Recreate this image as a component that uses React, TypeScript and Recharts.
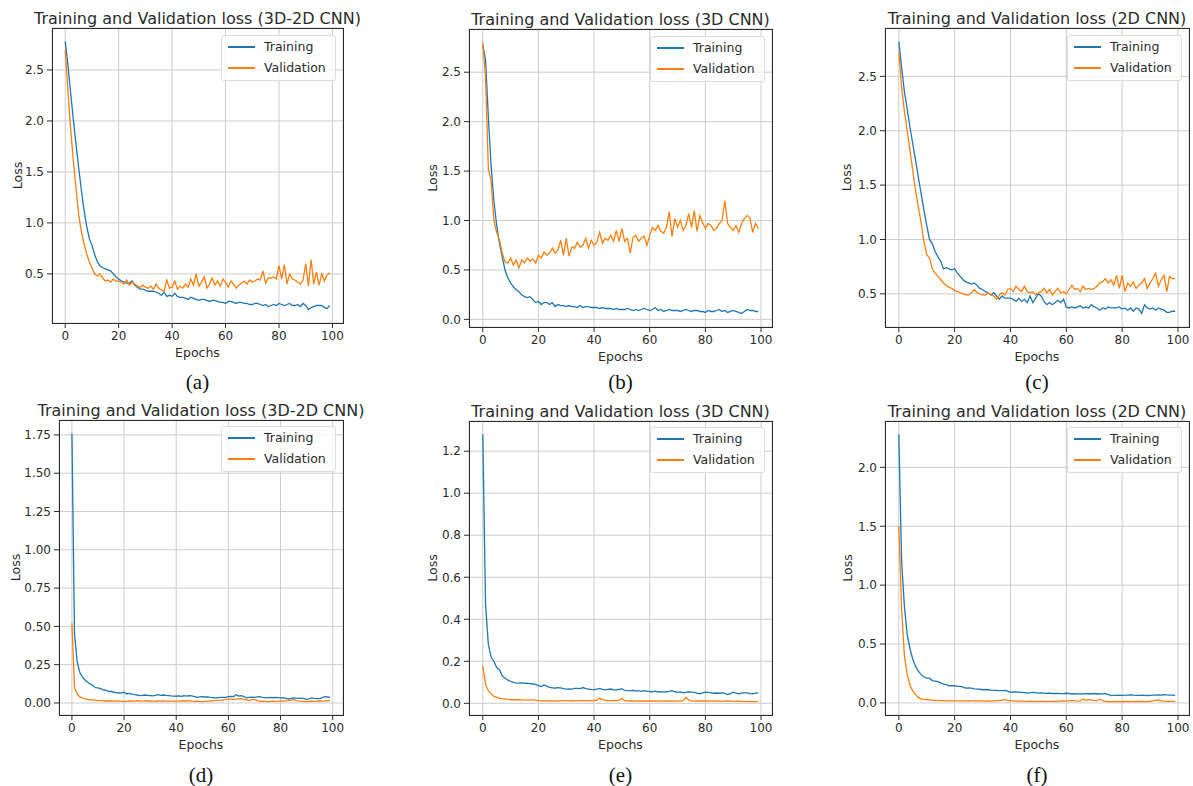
import { CartesianGrid, Line, LineChart, XAxis, YAxis } from "recharts";

// loss per epoch (epochs 0..99)
const trainA = [
  2.78, 2.55, 2.28, 2.02, 1.78, 1.55, 1.33, 1.13, 0.97, 0.85,
  0.78, 0.69, 0.62, 0.58, 0.56, 0.55, 0.54, 0.53, 0.5, 0.47,
  0.45, 0.43, 0.42, 0.41, 0.41, 0.43, 0.39, 0.37, 0.35, 0.35,
  0.34, 0.33, 0.33, 0.33, 0.32, 0.31, 0.29, 0.32, 0.28, 0.29,
  0.28, 0.31, 0.28, 0.27, 0.27, 0.26, 0.25, 0.27, 0.26, 0.25,
  0.24, 0.25, 0.25, 0.24, 0.23, 0.24, 0.24, 0.23, 0.22, 0.22,
  0.21, 0.23, 0.23, 0.22, 0.21, 0.22, 0.22, 0.21, 0.21, 0.2,
  0.2, 0.21, 0.21, 0.2, 0.19, 0.2, 0.18, 0.19, 0.2, 0.19,
  0.21, 0.2, 0.19, 0.2, 0.21, 0.19, 0.19, 0.2, 0.18, 0.21,
  0.19, 0.15, 0.17, 0.18, 0.19, 0.19, 0.19, 0.17, 0.16, 0.19,
];
const valA = [
  2.7, 2.3, 1.93, 1.62, 1.35, 1.09, 0.92, 0.8, 0.7, 0.62,
  0.56, 0.5, 0.48, 0.5, 0.46, 0.43, 0.44, 0.42, 0.45, 0.43,
  0.43, 0.42, 0.4, 0.44, 0.39, 0.42, 0.4, 0.38, 0.37, 0.39,
  0.37, 0.36, 0.38, 0.35, 0.4, 0.36, 0.34, 0.33, 0.44, 0.36,
  0.37, 0.43, 0.35, 0.38, 0.36, 0.4, 0.37, 0.45, 0.39, 0.5,
  0.38, 0.42, 0.47, 0.36, 0.4, 0.46, 0.39, 0.43, 0.38, 0.45,
  0.42, 0.37, 0.43, 0.4, 0.36, 0.39, 0.41, 0.43, 0.4, 0.44,
  0.42, 0.43, 0.45, 0.44, 0.53, 0.41, 0.46, 0.46, 0.47, 0.45,
  0.58, 0.45, 0.59, 0.4, 0.5, 0.45, 0.44, 0.42, 0.4, 0.44,
  0.6, 0.38, 0.64, 0.4, 0.52, 0.39, 0.5, 0.43, 0.49, 0.51,
];

const trainB = [
  2.78, 2.62, 2.05, 1.55, 1.2, 0.95, 0.77, 0.63, 0.5, 0.42,
  0.37, 0.33, 0.3, 0.28, 0.25, 0.23, 0.22, 0.23, 0.2, 0.17,
  0.18, 0.15, 0.17, 0.17, 0.15, 0.17, 0.13, 0.15, 0.14, 0.14,
  0.13, 0.14, 0.13, 0.13, 0.12, 0.14, 0.12, 0.13, 0.13, 0.12,
  0.12, 0.12, 0.11, 0.12, 0.11, 0.11, 0.11, 0.1, 0.11, 0.1,
  0.1, 0.1, 0.11, 0.1, 0.09, 0.1, 0.09, 0.1, 0.11, 0.1,
  0.09, 0.1, 0.12, 0.09, 0.1, 0.08, 0.09, 0.1, 0.09, 0.09,
  0.09, 0.08, 0.09, 0.1, 0.09, 0.08, 0.09, 0.09, 0.08, 0.08,
  0.07, 0.09, 0.08, 0.08, 0.09, 0.1, 0.08, 0.09, 0.07, 0.08,
  0.09, 0.08, 0.07, 0.06, 0.08, 0.1, 0.09, 0.09, 0.08, 0.08,
];
const valB = [
  2.8, 2.45, 1.52, 1.4, 1.0, 0.88, 0.8, 0.67, 0.58, 0.57,
  0.62, 0.55, 0.6, 0.52, 0.6, 0.57, 0.62, 0.59, 0.61, 0.57,
  0.65, 0.62, 0.68, 0.65, 0.67, 0.72, 0.67, 0.7, 0.8, 0.65,
  0.82, 0.64, 0.73, 0.72, 0.78, 0.73, 0.75, 0.82, 0.72, 0.8,
  0.75, 0.78, 0.88, 0.77, 0.82, 0.8, 0.85, 0.79, 0.9, 0.79,
  0.92, 0.79, 0.82, 0.67, 0.83, 0.85, 0.79, 0.82, 0.84, 0.75,
  0.85, 0.93, 0.9, 0.95, 0.89, 0.87, 0.93, 1.09, 0.84, 1.02,
  0.93, 1.0, 0.9, 0.95, 1.07, 0.93, 1.1, 0.89, 1.05, 0.98,
  0.92, 0.97, 0.95, 0.9, 0.92, 0.97, 1.0, 1.2, 0.97, 0.93,
  0.9, 0.95, 0.88, 0.97, 1.02, 1.05, 1.03, 0.88, 0.97, 0.92,
];

const trainC = [
  2.82, 2.58, 2.36, 2.2, 2.03, 1.88, 1.73, 1.57, 1.42, 1.27,
  1.13, 1.0, 0.96, 0.89, 0.84, 0.8, 0.73, 0.74, 0.73, 0.72,
  0.73, 0.69, 0.66, 0.63, 0.61, 0.6, 0.59, 0.6, 0.58, 0.55,
  0.54, 0.52, 0.51, 0.49, 0.51, 0.48, 0.45, 0.48, 0.46, 0.46,
  0.46, 0.45, 0.43, 0.46, 0.43, 0.45, 0.42, 0.48, 0.42, 0.46,
  0.5, 0.48, 0.43, 0.4, 0.42, 0.4, 0.42, 0.44, 0.42, 0.45,
  0.38, 0.37, 0.38, 0.37, 0.38, 0.39, 0.37, 0.38, 0.37, 0.4,
  0.38, 0.37, 0.35, 0.37, 0.36, 0.38, 0.37, 0.37, 0.37, 0.38,
  0.36, 0.37, 0.35, 0.37, 0.34, 0.37, 0.36, 0.32, 0.4, 0.37,
  0.36, 0.37, 0.35, 0.37, 0.36, 0.35, 0.33, 0.33, 0.34, 0.34,
];
const valC = [
  2.72, 2.4, 2.18, 2.0, 1.82, 1.63, 1.45, 1.3, 1.15, 0.98,
  0.86, 0.83, 0.73, 0.69, 0.66, 0.63, 0.6, 0.58, 0.56, 0.55,
  0.53, 0.52, 0.51, 0.5, 0.49, 0.49, 0.51, 0.54, 0.51, 0.5,
  0.49, 0.49, 0.51, 0.49, 0.48, 0.45, 0.49, 0.51, 0.49, 0.54,
  0.55, 0.52, 0.57, 0.54, 0.52, 0.57, 0.52, 0.51, 0.52, 0.49,
  0.51, 0.52, 0.55, 0.51, 0.54, 0.49, 0.52, 0.55, 0.51, 0.52,
  0.5, 0.54, 0.58, 0.54, 0.55, 0.52, 0.57, 0.54, 0.55, 0.54,
  0.55, 0.57, 0.6, 0.61, 0.64, 0.6, 0.63, 0.58, 0.67, 0.55,
  0.67, 0.52, 0.6, 0.57, 0.61, 0.55, 0.58, 0.6, 0.64, 0.55,
  0.6, 0.64, 0.69, 0.57, 0.63, 0.67, 0.52, 0.66, 0.64, 0.64,
];

const trainD = [
  1.76, 0.45, 0.27, 0.2, 0.17, 0.15, 0.135, 0.124, 0.115, 0.1,
  0.098, 0.094, 0.085, 0.083, 0.076, 0.075, 0.07, 0.068, 0.065, 0.066,
  0.07, 0.059, 0.063, 0.058, 0.054, 0.052, 0.048, 0.05, 0.052, 0.05,
  0.048, 0.046, 0.05, 0.054, 0.05, 0.052, 0.049, 0.048, 0.046, 0.045,
  0.044, 0.046, 0.043, 0.048, 0.045, 0.048, 0.046, 0.042, 0.037, 0.04,
  0.041, 0.039, 0.04, 0.036, 0.035, 0.033, 0.035, 0.036, 0.037, 0.036,
  0.041, 0.043, 0.042, 0.054, 0.045, 0.048, 0.042, 0.033, 0.036, 0.038,
  0.037, 0.04, 0.041, 0.036, 0.035, 0.033, 0.036, 0.034, 0.037, 0.035,
  0.033, 0.034, 0.03, 0.026, 0.03, 0.033, 0.032, 0.03, 0.031, 0.028,
  0.024, 0.027, 0.033, 0.03, 0.028, 0.029, 0.035, 0.041, 0.039, 0.037,
];
const valD = [
  0.52, 0.1, 0.06, 0.04, 0.033, 0.026, 0.023, 0.021, 0.02, 0.018,
  0.015, 0.015, 0.014, 0.013, 0.014, 0.013, 0.012, 0.013, 0.012, 0.011,
  0.011, 0.012, 0.014, 0.013, 0.012, 0.015, 0.013, 0.012, 0.013, 0.014,
  0.013, 0.012, 0.011, 0.013, 0.012, 0.013, 0.012, 0.011, 0.012, 0.013,
  0.011, 0.012, 0.013, 0.014, 0.013, 0.015, 0.012, 0.011, 0.012, 0.01,
  0.009, 0.011, 0.012, 0.013, 0.015, 0.015, 0.017, 0.018, 0.02, 0.022,
  0.026, 0.024, 0.024, 0.025, 0.027, 0.028, 0.024, 0.02, 0.015, 0.022,
  0.022, 0.015, 0.011, 0.012, 0.011, 0.009, 0.01, 0.012, 0.011, 0.012,
  0.013, 0.012, 0.014, 0.015, 0.018, 0.022, 0.015, 0.013, 0.011, 0.01,
  0.009, 0.01, 0.012, 0.011, 0.012, 0.013, 0.012, 0.014, 0.015, 0.015,
];

const trainE = [
  1.28, 0.47, 0.28, 0.22, 0.2, 0.17, 0.16, 0.13, 0.12, 0.11,
  0.105, 0.1, 0.097, 0.096, 0.097, 0.095, 0.096, 0.094, 0.092, 0.09,
  0.084, 0.08, 0.087, 0.082, 0.076, 0.074, 0.072, 0.075, 0.073, 0.07,
  0.068, 0.069, 0.068, 0.071, 0.071, 0.07, 0.075, 0.07, 0.068, 0.066,
  0.065, 0.068, 0.071, 0.066, 0.064, 0.066, 0.068, 0.064, 0.064, 0.066,
  0.068, 0.062, 0.06, 0.059, 0.062, 0.058, 0.06, 0.057, 0.06, 0.058,
  0.056, 0.055, 0.058, 0.054, 0.056, 0.053, 0.055, 0.057, 0.06, 0.055,
  0.053, 0.054, 0.05, 0.052, 0.054, 0.053, 0.052, 0.049, 0.045, 0.05,
  0.053, 0.052, 0.05, 0.048, 0.049, 0.048, 0.05, 0.047, 0.042, 0.046,
  0.053, 0.049, 0.045, 0.048, 0.05, 0.05, 0.046, 0.045, 0.048, 0.05,
];
const valE = [
  0.18, 0.09, 0.06, 0.045, 0.033, 0.029, 0.024, 0.022, 0.021, 0.019,
  0.017, 0.018, 0.017, 0.017, 0.016, 0.016, 0.015, 0.016, 0.016, 0.015,
  0.013, 0.012, 0.013, 0.012, 0.011, 0.01, 0.011, 0.012, 0.012, 0.013,
  0.013, 0.012, 0.013, 0.012, 0.012, 0.013, 0.013, 0.012, 0.013, 0.013,
  0.013, 0.015, 0.025, 0.018, 0.015, 0.013, 0.013, 0.014, 0.013, 0.015,
  0.024, 0.013, 0.012, 0.011, 0.011, 0.01, 0.011, 0.011, 0.012, 0.011,
  0.011, 0.012, 0.011, 0.01, 0.01, 0.01, 0.011, 0.012, 0.011, 0.01,
  0.01, 0.011, 0.013, 0.029, 0.016, 0.012, 0.01, 0.011, 0.012, 0.011,
  0.011, 0.01, 0.01, 0.011, 0.01, 0.01, 0.009, 0.01, 0.011, 0.01,
  0.009, 0.009, 0.01, 0.009, 0.008, 0.008, 0.009, 0.008, 0.008, 0.008,
];

const trainF = [
  2.28, 1.2, 0.82, 0.58, 0.46, 0.37, 0.31, 0.27, 0.24, 0.22,
  0.21, 0.21, 0.19, 0.185, 0.18, 0.17, 0.16, 0.155, 0.146, 0.146,
  0.146, 0.14, 0.14, 0.135, 0.126, 0.127, 0.126, 0.12, 0.118, 0.116,
  0.112, 0.114, 0.112, 0.108, 0.106, 0.107, 0.104, 0.105, 0.107, 0.1,
  0.09, 0.093, 0.093, 0.092, 0.09, 0.088, 0.084, 0.088, 0.09, 0.087,
  0.084, 0.085, 0.084, 0.082, 0.083, 0.08, 0.081, 0.08, 0.079, 0.08,
  0.082, 0.08, 0.076, 0.078, 0.077, 0.076, 0.077, 0.079, 0.078, 0.078,
  0.08, 0.078, 0.076, 0.077, 0.079, 0.072, 0.062, 0.064, 0.065, 0.066,
  0.065, 0.066, 0.067, 0.068, 0.066, 0.065, 0.064, 0.066, 0.065, 0.063,
  0.065, 0.066, 0.067, 0.068, 0.067, 0.07, 0.068, 0.067, 0.066, 0.064,
];
const valF = [
  1.5, 0.8, 0.4, 0.24, 0.15, 0.1, 0.07, 0.045, 0.034, 0.03,
  0.028, 0.026, 0.024, 0.022, 0.021, 0.02, 0.019, 0.018, 0.018, 0.017,
  0.017, 0.018, 0.017, 0.018, 0.017, 0.019, 0.018, 0.017, 0.018, 0.017,
  0.017, 0.016, 0.017, 0.016, 0.018, 0.019, 0.02, 0.024, 0.028, 0.022,
  0.019, 0.017, 0.015, 0.016, 0.015, 0.014, 0.014, 0.015, 0.014, 0.014,
  0.014, 0.015, 0.014, 0.014, 0.013, 0.014, 0.015, 0.014, 0.016, 0.017,
  0.016, 0.02, 0.022, 0.018, 0.016, 0.017, 0.034, 0.022, 0.028, 0.025,
  0.02, 0.022, 0.03, 0.02, 0.013, 0.012, 0.011, 0.012, 0.011, 0.012,
  0.011, 0.012, 0.013, 0.012, 0.011, 0.012, 0.013, 0.012, 0.011, 0.012,
  0.013, 0.018, 0.022, 0.025, 0.018, 0.015, 0.014, 0.013, 0.014, 0.014,
];

const epochs = trainA.map((_, i) => i);
const xTicks = [0, 20, 40, 60, 80, 100];
const ticksA = [0.5, 1.0, 1.5, 2.0, 2.5];
const ticksB = [0, 0.5, 1.0, 1.5, 2.0, 2.5];
const ticksD = [0, 0.25, 0.5, 0.75, 1.0, 1.25, 1.5, 1.75];
const ticksE = [0, 0.2, 0.4, 0.6, 0.8, 1.0, 1.2];
const ticksF = [0, 0.5, 1.0, 1.5, 2.0];

const BLUE = "#1f77b4";
const ORANGE = "#ff7f0e";
const INK = "#2b2b2b";
const FONT = "'DejaVu Sans', sans-serif";
const SERIF = "'Liberation Serif', 'Times New Roman', serif";

const Y_AXIS_W = 60;
const X_AXIS_H = 44;
const PAD = 3;

interface PanelSpec {
  title: string;
  caption: string;
  train: number[];
  val: number[];
  yTicks: number[];
  digits: number;
  left: number;
  top: number;
  width: number;
  height: number;
  lossGap: number;
  legendTop: number;
  captionY: number;
}

const panels: PanelSpec[] = [
  { title: "Training and Validation loss (3D-2D CNN)", caption: "(a)", train: trainA, val: valA, yTicks: ticksA, digits: 1, left: 52, top: 28, width: 291, height: 295, lossGap: 35, legendTop: 7, captionY: 382 },
  { title: "Training and Validation loss (3D CNN)", caption: "(b)", train: trainB, val: valB, yTicks: ticksB, digits: 1, left: 469, top: 29, width: 303, height: 298, lossGap: 37, legendTop: 7, captionY: 382 },
  { title: "Training and Validation loss (2D CNN)", caption: "(c)", train: trainC, val: valC, yTicks: ticksA, digits: 1, left: 885, top: 28, width: 304, height: 299, lossGap: 39, legendTop: 7, captionY: 382 },
  { title: "Training and Validation loss (3D-2D CNN)", caption: "(d)", train: trainD, val: valD, yTicks: ticksD, digits: 2, left: 59, top: 420, width: 284, height: 295, lossGap: 44, legendTop: 6, captionY: 775 },
  { title: "Training and Validation loss (3D CNN)", caption: "(e)", train: trainE, val: valE, yTicks: ticksE, digits: 1, left: 469, top: 421, width: 303, height: 294, lossGap: 37, legendTop: 6, captionY: 775 },
  { title: "Training and Validation loss (2D CNN)", caption: "(f)", train: trainF, val: valF, yTicks: ticksF, digits: 1, left: 885, top: 421, width: 304, height: 294, lossGap: 38, legendTop: 6, captionY: 775 },
];

const tickStyle = { fill: INK, fontSize: 12, fontFamily: FONT };

function Panel({ p }: { p: PanelSpec }) {
  const data = epochs.map((epoch, i) => ({ epoch, train: p.train[i], val: p.val[i] }));
  const all = [...p.train, ...p.val];
  const lo = Math.min(...all);
  const hi = Math.max(...all);
  const m = (hi - lo) * 0.05;
  const yDomain = [lo - m, hi + m];
  const xDomain = [-4.95, 103.95];
  const cx = p.left + p.width / 2;

  const lossLabel = () => {
    const x = Y_AXIS_W - p.lossGap;
    const y = PAD + p.height / 2;
    return (
      <text x={x} y={y} transform={`rotate(-90 ${x} ${y})`} textAnchor="middle" dominantBaseline="central"
        fill={INK} fontSize={12.5} fontFamily={FONT}>Loss</text>
    );
  };
  const epochsLabel = () => (
    <text x={Y_AXIS_W + p.width / 2} y={PAD + p.height + 29} textAnchor="middle" dominantBaseline="central"
      fill={INK} fontSize={12.5} fontFamily={FONT}>Epochs</text>
  );

  return (
    <>
      <div style={{ position: "absolute", left: cx - 250, width: 500, top: p.top - 18.5, textAlign: "center", fontFamily: FONT, fontSize: 16, lineHeight: "18px", color: INK, whiteSpace: "nowrap" }}>
        {p.title}
      </div>
      <div style={{ position: "absolute", left: p.left - Y_AXIS_W, top: p.top - PAD }}>
        <LineChart width={Y_AXIS_W + p.width + PAD} height={PAD + p.height + X_AXIS_H} data={data}
          margin={{ top: PAD, right: PAD, bottom: 0, left: 0 }}>
          <CartesianGrid stroke="#cdcdcd" />
          <XAxis dataKey="epoch" type="number" domain={xDomain} ticks={xTicks} allowDataOverflow height={X_AXIS_H}
            tick={tickStyle} tickSize={5} tickMargin={3} axisLine={false} tickLine={{ stroke: INK }} label={epochsLabel} />
          <YAxis type="number" domain={yDomain} ticks={p.yTicks} allowDataOverflow width={Y_AXIS_W}
            tickFormatter={(v: number) => v.toFixed(p.digits)} tick={tickStyle} tickSize={5} tickMargin={3}
            axisLine={false} tickLine={{ stroke: INK }} label={lossLabel} />
          <Line type="linear" dataKey="train" stroke={BLUE} strokeWidth={1.3} dot={false} isAnimationActive={false} />
          <Line type="linear" dataKey="val" stroke={ORANGE} strokeWidth={1.3} dot={false} isAnimationActive={false} />
        </LineChart>
      </div>
      {/* axes frame (all four spines) */}
      <div style={{ position: "absolute", left: p.left - 0.5, top: p.top - 0.5, width: p.width + 1, height: p.height + 1, boxSizing: "border-box", border: `1px solid ${INK}`, pointerEvents: "none" }} />
      <div style={{ position: "absolute", left: p.left + p.width - 7 - 115, top: p.top + p.legendTop, width: 115, height: 46, boxSizing: "border-box",
        background: "rgba(255,255,255,0.8)", border: "1px solid #dcdcdc", borderRadius: 3, fontFamily: FONT, fontSize: 12.5, color: INK }}>
        {[["Training", BLUE], ["Validation", ORANGE]].map(([name, color], i) => (
          <div key={name} style={{ position: "absolute", left: 0, top: 11 + i * 21, width: "100%" }}>
            <div style={{ position: "absolute", left: 6, top: -1, width: 27, height: 1.5, background: color }} />
            <div style={{ position: "absolute", left: 42, top: -9, lineHeight: "18px", whiteSpace: "nowrap" }}>{name}</div>
          </div>
        ))}
      </div>
      <div style={{ position: "absolute", left: cx - 50, width: 100, top: p.captionY - 13, textAlign: "center", fontFamily: SERIF, fontSize: 21, lineHeight: "26px", color: "#111" }}>
        {p.caption}
      </div>
    </>
  );
}

export default function App() {
  return (
    <div style={{ position: "absolute", left: 0, top: 0, width: 1193, height: 786, overflow: "hidden", background: "#fff" }}>
      {panels.map((p) => (
        <Panel key={p.caption} p={p} />
      ))}
    </div>
  );
}
